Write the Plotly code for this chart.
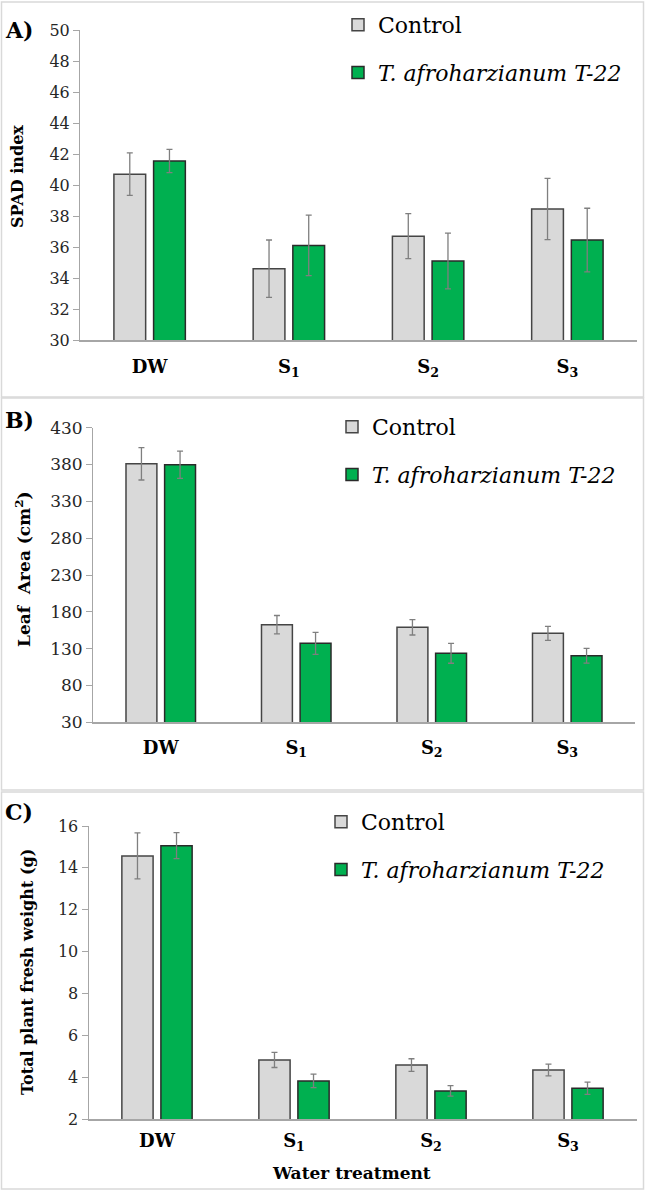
import plotly.graph_objects as go

W, H = 645, 1191

categories = ["<b>DW</b>", "<b>S<sub>1</sub></b>", "<b>S<sub>2</sub></b>", "<b>S<sub>3</sub></b>"]
series_names = ["Control", "<i>T. afroharzianum T-22</i>"]

# Panel A: SPAD index
spad_control = [40.7, 34.6, 36.7, 38.45]
spad_control_err = [1.37, 1.85, 1.45, 1.98]
spad_t22 = [41.55, 36.1, 35.1, 36.45]
spad_t22_err = [0.75, 1.95, 1.8, 2.05]

# Panel B: Leaf area (cm2)
la_control = [381, 162.5, 159, 150.8]
la_control_err = [22, 12.5, 10.5, 9.5]
la_t22 = [379.8, 137.2, 123.7, 120.4]
la_t22_err = [18.5, 15, 13.5, 10]

# Panel C: Total plant fresh weight (g)
fw_control = [14.57, 4.82, 4.58, 4.34]
fw_control_err = [1.1, 0.36, 0.3, 0.28]
fw_t22 = [15.06, 3.82, 3.34, 3.47]
fw_t22_err = [0.62, 0.32, 0.25, 0.29]

panels = [
    dict(ctrl=spad_control, ctrl_e=spad_control_err, t22=spad_t22, t22_e=spad_t22_err,
         yrange=[30, 50], dtick=2, title="<b>SPAD index</b>", letter="<b>A)</b>",
         px_x=(80, 637), px_y=(30, 340), tick_size=16, title_x=17, title_y=177,
         title_size=16, letter_y=30, leg_x=338, leg_y=4, standoff=10),
    dict(ctrl=la_control, ctrl_e=la_control_err, t22=la_t22, t22_e=la_t22_err,
         yrange=[30, 430], dtick=50, title="<b>Leaf\u00a0 Area (cm<sup>2</sup>)</b>", letter="<b>B)</b>",
         px_x=(93, 635), px_y=(427.7, 722.3), tick_size=17, title_x=23, title_y=569,
         title_size=17, letter_y=420, leg_x=332, leg_y=406, standoff=8),
    dict(ctrl=fw_control, ctrl_e=fw_control_err, t22=fw_t22, t22_e=fw_t22_err,
         yrange=[2, 16], dtick=2, title="<b>Total plant fresh weight (g)</b>", letter="<b>C)</b>",
         px_x=(88.5, 636.5), px_y=(826, 1119), tick_size=16, title_x=27, title_y=972,
         title_size=16, letter_y=812, leg_x=321, leg_y=801, standoff=5),
]

FONT = "DejaVu Serif"
fig = go.Figure()
layout_updates = {}
annotations = []
shapes = []

def py(p):
    return 1 - p / H

def pxx(p):
    return p / W

for i, pn in enumerate(panels):
    k = "" if i == 0 else str(i + 1)
    xa, ya = "x" + k, "y" + k
    leg = "legend" + k
    fig.add_trace(go.Bar(
        x=categories, y=pn["ctrl"], name=series_names[0],
        marker=dict(color="#d9d9d9", line=dict(color="#454545", width=1.5)),
        error_y=dict(type="data", array=pn["ctrl_e"], color="#7f7f7f", thickness=1.3, width=3),
        xaxis=xa, yaxis=ya, legend=leg, legendgroup="c" + k, offsetgroup="c"))
    fig.add_trace(go.Bar(
        x=categories, y=pn["t22"], name=series_names[1],
        marker=dict(color="#00b050", line=dict(color="#2a2a2a", width=1.5)),
        error_y=dict(type="data", array=pn["t22_e"], color="#7f7f7f", thickness=1.3, width=3),
        xaxis=xa, yaxis=ya, legend=leg, legendgroup="t" + k, offsetgroup="t"))

    layout_updates["xaxis" + k] = dict(
        domain=[pxx(pn["px_x"][0]), pxx(pn["px_x"][1])], anchor=ya,
        showline=True, linecolor="#a6a6a6", linewidth=1.5, ticks="",
        tickfont=dict(family=FONT, size=18, color="#000000"),
        ticklabelstandoff=pn["standoff"], showgrid=False, zeroline=False)
    layout_updates["yaxis" + k] = dict(
        domain=[py(pn["px_y"][1]), py(pn["px_y"][0])], anchor=xa,
        range=pn["yrange"], dtick=pn["dtick"], tick0=pn["yrange"][0],
        showline=True, linecolor="#a6a6a6", linewidth=1, ticks="outside",
        ticklen=6, tickcolor="#a6a6a6", tickwidth=1,
        tickfont=dict(family=FONT, size=pn["tick_size"], color="#262626"),
        showgrid=False, zeroline=False)
    layout_updates[leg] = dict(
        x=pxx(pn["leg_x"]), y=py(pn["leg_y"]), xanchor="left", yanchor="top",
        font=dict(family=FONT, size=22, color="#000000"), bgcolor="rgba(0,0,0,0)",
        tracegroupgap=16, traceorder="grouped")

    annotations.append(dict(text=pn["title"], x=pxx(pn["title_x"]), y=py(pn["title_y"]),
                            xref="paper", yref="paper", textangle=-90, showarrow=False,
                            xanchor="center", yanchor="middle",
                            font=dict(family=FONT, size=pn["title_size"], color="#000000")))
    annotations.append(dict(text=pn["letter"], x=pxx(3), y=py(pn["letter_y"]),
                            xref="paper", yref="paper", showarrow=False,
                            xanchor="left", yanchor="middle",
                            font=dict(family=FONT, size=22, color="#000000")))

annotations.append(dict(text="<b>Water treatment</b>", x=pxx(351), y=py(1173),
                        xref="paper", yref="paper", showarrow=False,
                        xanchor="center", yanchor="middle",
                        font=dict(family=FONT, size=17, color="#000000")))

for (t, b) in [(2, 397), (398, 790), (792, 1189)]:
    shapes.append(dict(type="rect", xref="paper", yref="paper",
                       x0=pxx(1.5), x1=pxx(643.5), y0=py(b), y1=py(t),
                       line=dict(color="#d9d9d9", width=1.5), fillcolor="rgba(0,0,0,0)"))

fig.update_layout(
    width=W, height=H, margin=dict(l=0, r=0, t=0, b=0, autoexpand=False),
    paper_bgcolor="white", plot_bgcolor="white",
    barmode="group", bargap=0.43, bargroupgap=0.2,
    showlegend=True, annotations=annotations, shapes=shapes,
    **layout_updates)

post = ("document.body.style.margin='0';document.body.style.padding='0';"
        "var g=document.getElementsByClassName('plotly-graph-div')[0];"
        "g.style.position='absolute';g.style.top='0px';g.style.left='0px';")
fig.write_html("out.html", config={"displayModeBar": False}, post_script=post)
